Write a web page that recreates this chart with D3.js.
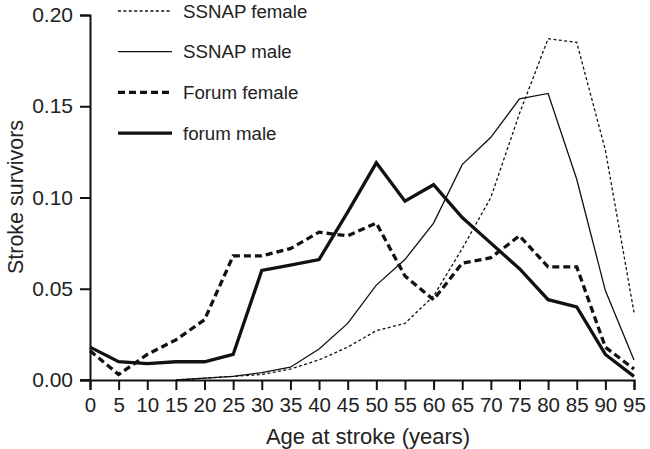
<!DOCTYPE html>
<html><head><meta charset="utf-8">
<script src="https://cdn.jsdelivr.net/npm/d3@7"></script>
<style>body{margin:0;background:#fff}svg{display:block}text{font-family:"Liberation Sans",Arial,sans-serif;fill:#222}</style>
</head><body>
<script>
const ages = [0,5,10,15,20,25,30,35,40,45,50,55,60,65,70,75,80,85,90,95];
const ssnapAges = [15,20,25,30,35,40,45,50,55,60,65,70,75,80,85,90,95];
const ssnapFemale = [0.000,0.001,0.002,0.003,0.006,0.011,0.018,0.027,0.031,0.046,0.072,0.100,0.146,0.187,0.185,0.126,0.037];
const ssnapMale   = [0.000,0.001,0.002,0.004,0.007,0.017,0.031,0.052,0.066,0.086,0.118,0.133,0.154,0.157,0.110,0.049,0.011];
const forumFemale = [0.016,0.003,0.014,0.022,0.033,0.068,0.068,0.072,0.081,0.079,0.086,0.057,0.044,0.064,0.067,0.079,0.062,0.062,0.018,0.006];
const forumMale   = [0.018,0.010,0.009,0.010,0.010,0.014,0.060,0.063,0.066,0.092,0.119,0.098,0.107,0.089,0.075,0.061,0.044,0.040,0.014,0.002];
const yTicks = [0,0.05,0.10,0.15,0.20];
const seriesNames = ["SSNAP female","SSNAP male","Forum female","forum male"];

const W=650,H=449;
const svg=d3.select("body").append("svg").attr("width",W).attr("height",H);
const x=d3.scaleLinear().domain([0,95]).range([90,634]);
const y=d3.scaleLinear().domain([0,0.2]).range([380,15]);

const styles=[
 {w:1.3,dash:"3,2.4"},
 {w:1.3,dash:null},
 {w:3.3,dash:"7,4"},
 {w:3.3,dash:null}
];
const series=[
 {name:seriesNames[0],xs:ssnapAges,vs:ssnapFemale,s:styles[0]},
 {name:seriesNames[1],xs:ssnapAges,vs:ssnapMale,s:styles[1]},
 {name:seriesNames[2],xs:ages,vs:forumFemale,s:styles[2]},
 {name:seriesNames[3],xs:ages,vs:forumMale,s:styles[3]}
];

// axes
const yAx=svg.append("g").attr("transform","translate(90,0)")
 .call(d3.axisLeft(y).tickValues(yTicks).tickFormat(d3.format(".2f")).tickSize(10).tickPadding(7));
const xAx=svg.append("g").attr("transform","translate(0,380)")
 .call(d3.axisBottom(x).tickValues(ages).tickSize(10).tickPadding(7));
[yAx,xAx].forEach(g=>{
 g.select(".domain").attr("stroke","#111").attr("stroke-width",2);
 g.selectAll(".tick line").attr("stroke","#111").attr("stroke-width",2);
 g.selectAll(".tick text").attr("fill","#222").style("font-family","'Liberation Sans',Arial,sans-serif");
});
yAx.selectAll(".tick text").attr("font-size",21);
xAx.selectAll(".tick text").attr("font-size",20.5);
svg.append("line").attr("x1",80).attr("x2",90).attr("y1",380).attr("y2",380).attr("stroke","#111").attr("stroke-width",2);

// lines
const line=d3.line().x(d=>x(d[0])).y(d=>y(d[1]));
series.forEach(sr=>{
 const pts=sr.xs.map((a,i)=>[a,sr.vs[i]]);
 svg.append("path").datum(pts).attr("d",line).attr("fill","none").attr("stroke","#111")
  .attr("stroke-width",sr.s.w).attr("stroke-dasharray",sr.s.dash).attr("stroke-linejoin","miter");
});

// legend
series.forEach((sr,i)=>{
 const ly=11+i*40.7;
 svg.append("line").attr("x1",118).attr("x2",172).attr("y1",ly).attr("y2",ly).attr("stroke","#111")
  .attr("stroke-width",sr.s.w).attr("stroke-dasharray",sr.s.dash);
 svg.append("text").attr("x",183).attr("y",ly+6.7).attr("font-size",18.7).text(sr.name);
});

// axis titles
svg.append("text").attr("x",368).attr("y",444).attr("text-anchor","middle").attr("font-size",22).text("Age at stroke (years)");
svg.append("text").attr("transform","translate(23,197) rotate(-90)").attr("text-anchor","middle").attr("font-size",21.5).text("Stroke survivors");
</script>
</body></html>
